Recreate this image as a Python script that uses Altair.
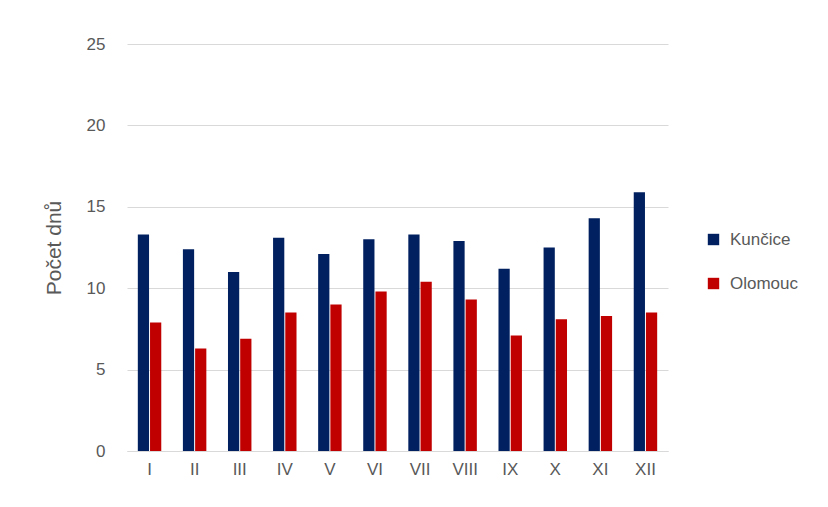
import altair as alt
import pandas as pd

months = ["I", "II", "III", "IV", "V", "VI", "VII", "VIII", "IX", "X", "XI", "XII"]
kuncice = [13.3, 12.4, 11.0, 13.1, 12.1, 13.0, 13.3, 12.9, 11.2, 12.5, 14.3, 15.9]
olomouc = [7.9, 6.3, 6.9, 8.5, 9.0, 9.8, 10.4, 9.3, 7.1, 8.1, 8.3, 8.5]
series = ["Kunčice", "Olomouc"]

rows = []
for m, k, o in zip(months, kuncice, olomouc):
    rows.append({"mesic": m, "stanice": series[0], "dny": k})
    rows.append({"mesic": m, "stanice": series[1], "dny": o})
source = pd.DataFrame(rows)

chart = (
    alt.Chart(source)
    .mark_bar()
    .encode(
        x=alt.X(
            "mesic:N",
            sort=months,
            title=None,
            scale=alt.Scale(paddingInner=0.48, paddingOuter=0.24),
            axis=alt.Axis(labelAngle=0, labelFontSize=17, labelColor="#595959",
                          domainColor="#d9d9d9", ticks=False, labelPadding=10,
                          grid=False, labelFont="Liberation Sans"),
        ),
        xOffset=alt.XOffset("stanice:N", sort=series,
                            scale=alt.Scale(paddingInner=0.08)),
        y=alt.Y(
            "dny:Q",
            title="Počet dnů",
            scale=alt.Scale(domain=[0, 25]),
            axis=alt.Axis(values=[0, 5, 10, 15, 20, 25], labelFontSize=17,
                          labelColor="#595959", titleFontSize=21,
                          titleColor="#595959", titleFontWeight="normal",
                          titleFont="Liberation Sans", labelFont="Liberation Sans",
                          gridColor="#d9d9d9", domain=False, ticks=False,
                          labelPadding=22, titlePadding=22),
        ),
        color=alt.Color(
            "stanice:N",
            sort=series,
            scale=alt.Scale(domain=series, range=["#002060", "#c00000"]),
            legend=alt.Legend(title=None, orient="none", legendX=578, legendY=187,
                              symbolType="square", symbolSize=130,
                              labelFontSize=17, labelColor="#595959",
                              labelFont="Liberation Sans", rowPadding=26,
                              symbolStrokeWidth=0, labelOffset=8),
        ),
    )
    .properties(
        width=541,
        height=407,
        autosize=alt.AutoSizeParams(type="none"),
        padding={"left": 119, "top": 36, "right": 150, "bottom": 50},
    )
    .configure(background="white")
    .configure_view(stroke=None)
)

chart.save("out.html", embed_options={"renderer": "svg", "actions": False})
